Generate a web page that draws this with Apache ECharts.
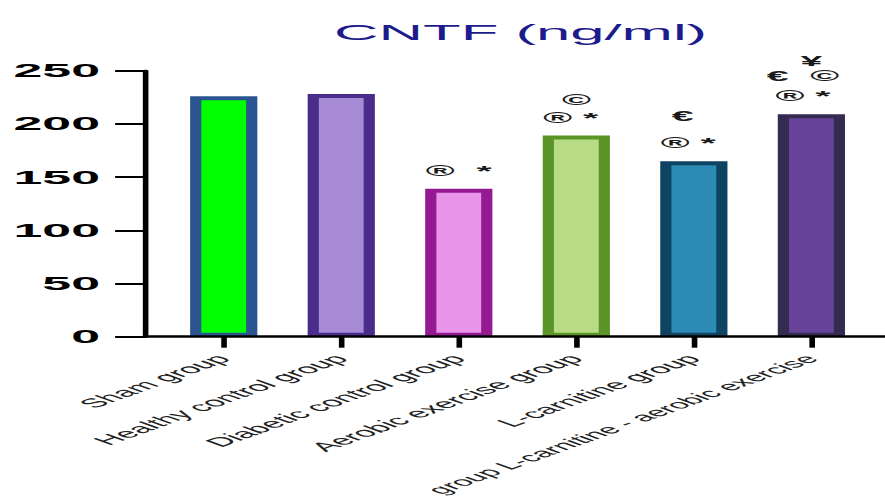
<!DOCTYPE html>
<html>
<head>
<meta charset="utf-8">
<script src="https://cdn.jsdelivr.net/npm/echarts@6/dist/echarts.min.js"></script>
<style>
  html, body { margin: 0; padding: 0; background: #fff; overflow: hidden; }
  #main { width: 316px; height: 501px; transform: scaleX(2.8006); transform-origin: 0 0; }
</style>
</head>
<body>
<div id="main"></div>
<script>
// ---- data ----
const categories = [
  'Sham group',
  'Healthy control group',
  'Diabetic control group',
  'Aerobic exercise group',
  'L-carnitine group',
  'group L-carnitine - aerobic exercise'
];
const cntfValues = [226, 228, 139, 189, 165, 209];
const yMin = 0, yMax = 250, yInterval = 50;
const annotations = [
  [],
  [],
  ['®  *'],
  ['©', '® *'],
  ['€', '® *'],
  ['¥', '€  ©', '® *']
];
const titleText = 'CNTF (ng/ml)';

// ---- styles ----
const fillColors   = ['#00ff00', '#a68ad6', '#e995e9', '#b7dc84', '#2d8ab4', '#67449a'];
const borderColors = ['#2a5590', '#4a2d8a', '#951a91', '#5b9427', '#0e4462', '#352a50'];
const categoryFontSizes = [12.8, 12.8, 12.8, 12.8, 12.8, 12.2];
const annotationLayout = [
  null,
  null,
  { offset: 0,  lines: [{ lh: 18, dx: 0 }] },
  { offset: -1, lines: [{ lh: 18, dx: 1 }, { lh: 18, dx: -1 }] },
  { offset: -2, lines: [{ lh: 36, dx: -2 }, { lh: 18, dx: 0 }] },
  { offset: -3, lines: [{ lh: 8, dx: 3 }, { lh: 22, dx: 0 }, { lh: 18, dx: 0 }] }
];

function buildLabel(i) {
  const lines = annotations[i];
  const lay = annotationLayout[i];
  if (!lines.length || !lay) return { show: false };
  const rich = {};
  lines.forEach((t, k) => {
    const dx = lay.lines[k].dx;
    rich['l' + k] = {
      fontSize: 14,
      fontWeight: 'bold',
      fontFamily: 'Liberation Sans',
      color: '#1a1a1a',
      lineHeight: lay.lines[k].lh,
      padding: [0, dx < 0 ? -2 * dx : 0, 0, dx > 0 ? 2 * dx : 0]
    };
  });
  return {
    show: true,
    position: 'top',
    distance: 9,
    offset: [lay.offset, 0],
    formatter: lines.map((t, k) => '{l' + k + '|' + t + '}').join('\n'),
    rich: rich
  };
}

const chart = echarts.init(document.getElementById('main'), null, { renderer: 'svg', width: 316, height: 501 });

const option = {
  animation: false,
  backgroundColor: '#fff',
  title: {
    text: titleText,
    left: 119.3,
    top: 21,
    padding: 0,
    textStyle: { fontSize: 22, fontWeight: 'normal', color: '#1c1c8c', fontFamily: 'Liberation Sans' }
  },
  grid: [
    { left: 58.9, right: 5.3, top: 70.7, bottom: 164.3, containLabel: false, outerBoundsMode: 'none' },
    { left: 52.1, right: 0, top: 70.7, bottom: 164.3, containLabel: false, outerBoundsMode: 'none' }
  ],
  xAxis: [
    {
      type: 'category',
      gridIndex: 0,
      data: categories.map((c, i) => ({ value: c, textStyle: { fontSize: categoryFontSizes[i] } })),
      axisLine: { show: false },
      axisTick: { show: true, alignWithLabel: true, length: 11, lineStyle: { color: '#000', width: 2 } },
      axisLabel: { interval: 0, rotate: 45, fontSize: 12.8, color: '#222', margin: 20, fontFamily: 'Liberation Sans' },
      splitLine: { show: false }
    },
    {
      type: 'value',
      gridIndex: 1,
      min: 0, max: 1,
      z: 5,
      axisLine: { show: true, onZero: false, lineStyle: { color: '#000', width: 2.5 } },
      axisTick: { show: false },
      axisLabel: { show: false },
      splitLine: { show: false }
    }
  ],
  yAxis: [
    {
      type: 'value',
      gridIndex: 0,
      min: yMin, max: yMax, interval: yInterval,
      offset: 6.8,
      axisLine: { show: true, lineStyle: { color: '#000', width: 2 } },
      axisTick: { show: true, length: 11, lineStyle: { color: '#000', width: 2 } },
      axisLabel: { fontSize: 18.5, fontWeight: 'bold', color: '#000', margin: 16.4, fontFamily: 'Liberation Sans' },
      splitLine: { show: false }
    },
    { type: 'value', gridIndex: 1, show: false, min: 0, max: 1 }
  ],
  series: [
    {
      type: 'bar',
      xAxisIndex: 0,
      yAxisIndex: 0,
      barWidth: 24,
      data: cntfValues.map((v, i) => ({
        value: v,
        itemStyle: { color: fillColors[i], borderColor: borderColors[i], borderWidth: 4 },
        label: buildLabel(i)
      }))
    }
  ]
};
chart.setOption(option);
</script>
</body>
</html>
